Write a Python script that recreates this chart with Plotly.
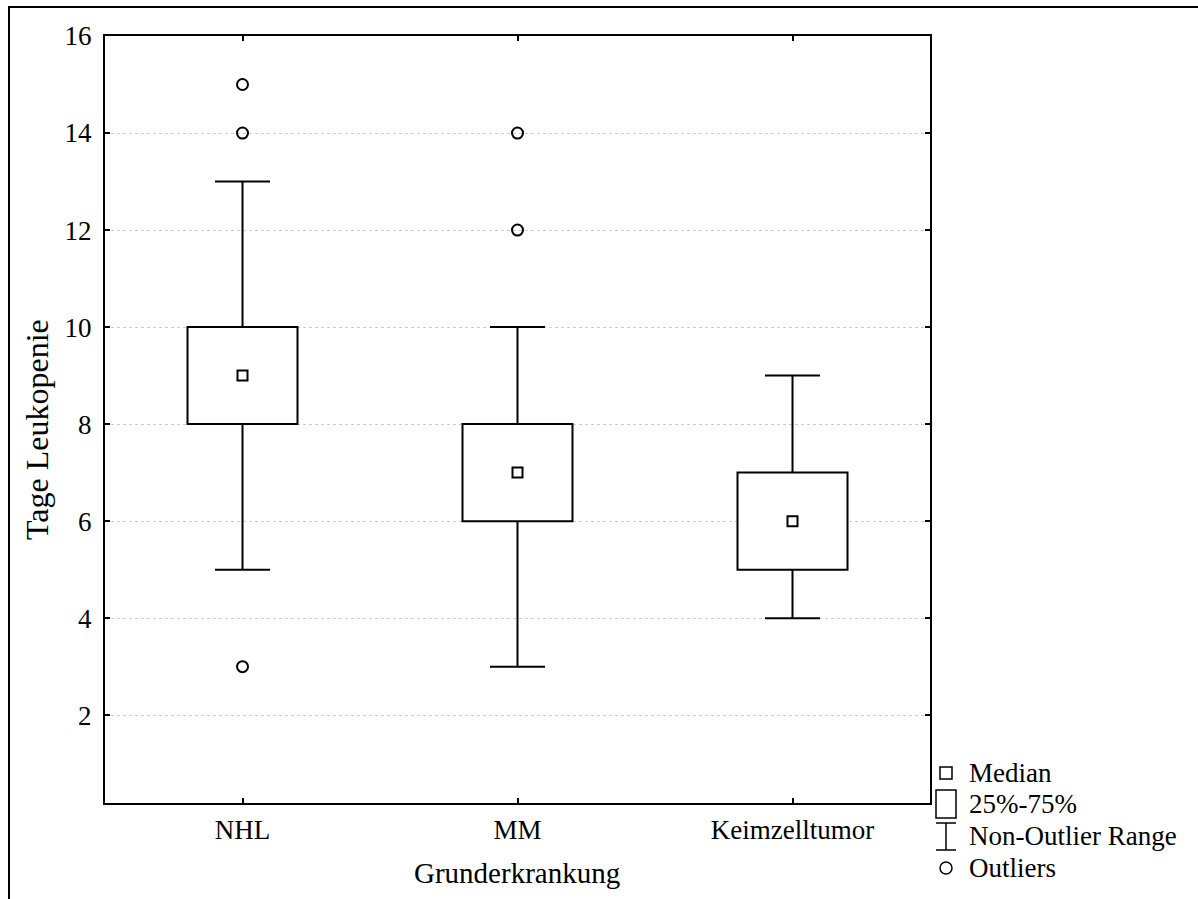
import plotly.graph_objects as go

# ---- data ----
categories = ["NHL", "MM", "Keimzelltumor"]
q1 = [8, 6, 5]
median = [9, 7, 6]
q3 = [10, 8, 7]
whisker_low = [5, 3, 4]
whisker_high = [13, 10, 9]
outliers = {"NHL": [15, 14, 3], "MM": [14, 12], "Keimzelltumor": []}
y_ticks = [2, 4, 6, 8, 10, 12, 14, 16]
x_title = "Grunderkrankung"
y_title = "Tage Leukopenie"
legend_labels = ["Median", "25%-75%", "Non-Outlier Range", "Outliers"]

FONT = "Liberation Serif, Times New Roman, serif"
W, H = 1198, 899
L, R, T, B = 105, 268, 36, 96
PW, PH = W - L - R, H - T - B


def px2paper(px, py):
    return (px - L) / PW, (H - B - py) / PH


xs = list(range(len(categories)))
box_w = 0.4
cap_half = 0.1

fig = go.Figure()

# boxes (25%-75%)
fig.add_trace(go.Bar(
    x=xs, base=q1, y=[b - a for a, b in zip(q1, q3)], width=box_w,
    marker=dict(color="white", line=dict(color="black", width=2)),
    showlegend=False, hoverinfo="skip"))

# whiskers
wx, wy = [], []
for i in xs:
    wx += [i, i, None, i - cap_half, i + cap_half, None,
           i, i, None, i - cap_half, i + cap_half, None]
    wy += [q3[i], whisker_high[i], None, whisker_high[i], whisker_high[i], None,
           q1[i], whisker_low[i], None, whisker_low[i], whisker_low[i], None]
fig.add_trace(go.Scatter(x=wx, y=wy, mode="lines",
                         line=dict(color="black", width=2),
                         showlegend=False, hoverinfo="skip"))

# medians
fig.add_trace(go.Scatter(x=xs, y=median, mode="markers",
                         marker=dict(symbol="square-open", size=10, color="black",
                                     line=dict(width=2, color="black")),
                         showlegend=False))

# outliers
ox, oy = [], []
for i, c in enumerate(categories):
    for v in outliers[c]:
        ox.append(i)
        oy.append(v)
fig.add_trace(go.Scatter(x=ox, y=oy, mode="markers",
                         marker=dict(symbol="circle-open", size=11, color="black",
                                     line=dict(width=2, color="black")),
                         showlegend=False))

shapes = []
annotations = []

# outer frame
x0, y0 = px2paper(9, 899)
x1, y1 = px2paper(9, 7)
x2, _ = px2paper(1198, 7)
shapes.append(dict(type="path", xref="paper", yref="paper",
                   path=f"M {x0} {y0} L {x1} {y1} L {x2} {y1}",
                   line=dict(color="black", width=2)))

# axis titles
ax, ay = px2paper(37, 430)
annotations.append(dict(text=y_title, xref="paper", yref="paper", x=ax, y=ay,
                        textangle=-90, showarrow=False, xanchor="center", yanchor="middle",
                        font=dict(family=FONT, size=32, color="black")))
bx, by = px2paper(517, 873)
annotations.append(dict(text=x_title, xref="paper", yref="paper", x=bx, y=by,
                        showarrow=False, xanchor="center", yanchor="middle",
                        font=dict(family=FONT, size=29, color="black")))

# legend (drawn manually)
rows_y = [773, 804, 836, 868]
sym_x = 946
text_x = 967
# median symbol
a, b = px2paper(sym_x - 6, rows_y[0] - 6)
c, d = px2paper(sym_x + 6, rows_y[0] + 6)
shapes.append(dict(type="rect", xref="paper", yref="paper", x0=a, y0=b, x1=c, y1=d,
                   line=dict(color="black", width=1.5)))
# box symbol
a, b = px2paper(sym_x - 10, rows_y[1] - 14)
c, d = px2paper(sym_x + 10, rows_y[1] + 14)
shapes.append(dict(type="rect", xref="paper", yref="paper", x0=a, y0=b, x1=c, y1=d,
                   line=dict(color="black", width=1.5)))
# whisker symbol
top = rows_y[2] - 13
bot = rows_y[2] + 14
a1, b1 = px2paper(sym_x, top)
a2, b2 = px2paper(sym_x, bot)
l1, _ = px2paper(sym_x - 10, top)
r1, _ = px2paper(sym_x + 10, top)
shapes.append(dict(type="path", xref="paper", yref="paper",
                   path=f"M {l1} {b1} L {r1} {b1} M {a1} {b1} L {a2} {b2} M {l1} {b2} L {r1} {b2}",
                   line=dict(color="black", width=1.5)))
# outlier symbol
a, b = px2paper(sym_x - 6, rows_y[3] - 6)
c, d = px2paper(sym_x + 6, rows_y[3] + 6)
shapes.append(dict(type="circle", xref="paper", yref="paper", x0=a, y0=b, x1=c, y1=d,
                   line=dict(color="black", width=1.5)))
for lbl, ry in zip(legend_labels, rows_y):
    tx, ty = px2paper(text_x, ry)
    annotations.append(dict(text=lbl, xref="paper", yref="paper", x=tx, y=ty,
                            showarrow=False, xanchor="left", yanchor="middle",
                            font=dict(family=FONT, size=27, color="black")))

fig.update_layout(
    width=W, height=H,
    margin=dict(l=L, r=R, t=T, b=B),
    paper_bgcolor="white", plot_bgcolor="white",
    font=dict(family=FONT, size=27, color="black"),
    showlegend=False,
    shapes=shapes, annotations=annotations,
    xaxis=dict(range=[-0.5, 2.5], tickvals=xs, ticktext=categories,
               showgrid=False, zeroline=False,
               showline=True, linecolor="black", linewidth=2, mirror="allticks",
               ticks="inside", ticklen=5, tickwidth=1.5, tickcolor="black",
               ticklabelstandoff=2,
               tickfont=dict(family=FONT, size=27, color="black")),
    yaxis=dict(range=[0.19, 16], tickvals=y_ticks,
               showgrid=True, gridcolor="#cccccc", griddash="dot", gridwidth=1,
               zeroline=False,
               showline=True, linecolor="black", linewidth=2, mirror="allticks",
               ticks="inside", ticklen=5, tickwidth=1.5, tickcolor="black",
               ticklabelstandoff=6,
               tickfont=dict(family=FONT, size=27, color="black")),
)

fig.write_html("out.html")
